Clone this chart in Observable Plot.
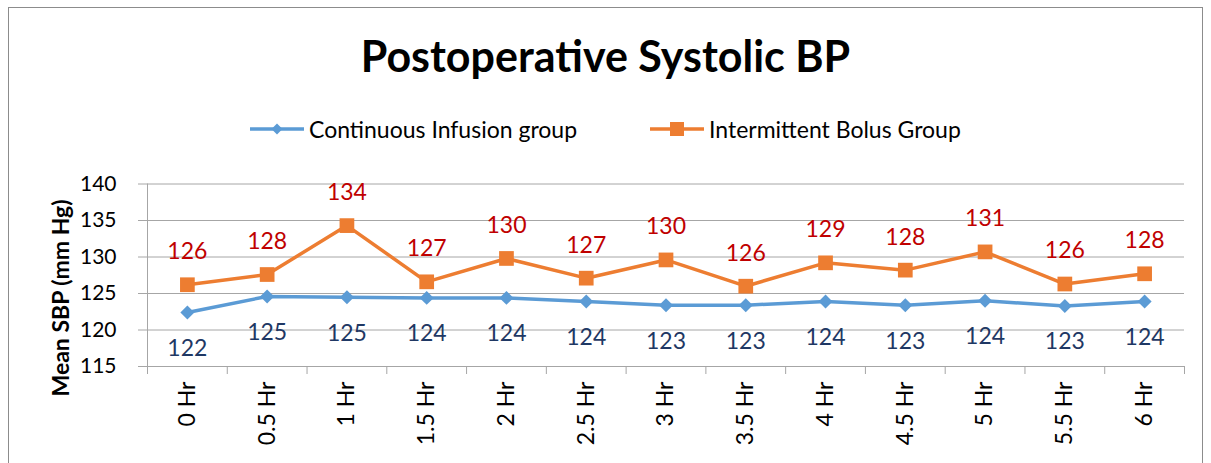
<!DOCTYPE html>
<html>
<head>
<meta charset="utf-8">
<script src="https://cdn.jsdelivr.net/npm/d3@7"></script>
<script src="https://cdn.jsdelivr.net/npm/@observablehq/plot@0.6"></script>
<style>
  html, body { margin: 0; padding: 0; background: #fff; }
  #wrap { position: relative; width: 1211px; height: 463px; overflow: hidden; font-family: Lato, "Open Sans", sans-serif; }
  #border { position: absolute; left: 8px; top: 7px; width: 1195px; height: 470px; border: 1px solid #8c8c8c; box-sizing: border-box; }
  #title { position: absolute; left: 0; width: 1211px; top: 34px; text-align: center; font-weight: bold; font-size: 43px; color: #000; line-height: 1; }
  #legend { position: absolute; top: 116px; left: 0; width: 1211px; height: 26px; font-size: 23px; color: #000; }
  .item { position: absolute; top: 0; display: flex; align-items: center; height: 26px; }
  .item svg { margin-right: 5px; }
  #ylabel { position: absolute; left: 60px; top: 298px; transform: translate(-50%, -50%) rotate(-90deg); white-space: nowrap; font-weight: bold; font-size: 23px; color: #000; }
  #chart { position: absolute; left: 0; top: 160px; }
</style>
</head>
<body>
<div id="wrap">
  <div id="border"></div>
  <div id="title">Postoperative Systolic BP</div>
  <div id="legend"></div>
  <div id="ylabel">Mean SBP (mm Hg)</div>
  <div id="chart"></div>
</div>
<script>
const categories = ["0 Hr", "0.5 Hr", "1 Hr", "1.5 Hr", "2 Hr", "2.5 Hr", "3 Hr", "3.5 Hr", "4 Hr", "4.5 Hr", "5 Hr", "5.5 Hr", "6 Hr"];
const continuousInfusion = [122.4, 124.6, 124.5, 124.4, 124.4, 123.9, 123.4, 123.4, 123.9, 123.4, 124.0, 123.3, 123.9];
const intermittentBolus = [126.2, 127.6, 134.3, 126.6, 129.8, 127.1, 129.6, 126.0, 129.2, 128.2, 130.7, 126.3, 127.7];
const yTicks = [115, 120, 125, 130, 135, 140];
const seriesNames = ["Continuous Infusion group", "Intermittent Bolus Group"];

const blue = "#5B9BD5", orange = "#ED7D31";
const blueLabel = "#1F3864", orangeLabel = "#C00000";
const gridColor = "#A6A6A6";

const contData = categories.map((c, i) => ({i, c, v: continuousInfusion[i]}));
const bolusData = categories.map((c, i) => ({i, c, v: intermittentBolus[i]}));
const idx = categories.map((c, i) => i);
const boundaries = d3.range(categories.length + 1).map(k => k - 0.5);

// legend
const legend = document.getElementById("legend");
const legendItems = [
  {name: seriesNames[0], color: blue, left: 250, marker: `<path d="M27,6.5 L32.5,12 L27,17.5 L21.5,12 Z" fill="${blue}"/>`},
  {name: seriesNames[1], color: orange, left: 650, marker: `<rect x="20" y="5" width="14" height="14" fill="${orange}"/>`}
];
for (const it of legendItems) {
  const d = document.createElement("div");
  d.className = "item";
  d.style.left = it.left + "px";
  d.innerHTML = `<svg width="54" height="24" viewBox="0 0 54 24"><line x1="0" y1="12" x2="54" y2="12" stroke="${it.color}" stroke-width="3.5"/>${it.marker}</svg><span>${it.name}</span>`;
  legend.appendChild(d);
}

const chart = Plot.plot({
  width: 1211,
  height: 303,
  marginTop: 23.5,
  marginBottom: 97,
  marginLeft: 147,
  marginRight: 27,
  style: {fontFamily: "Lato, 'Open Sans', sans-serif", background: "transparent", overflow: "visible"},
  x: {type: "linear", domain: [-0.5, categories.length - 0.5], axis: null},
  y: {domain: [115, 140], axis: null},
  marks: [
    Plot.gridY(yTicks, {stroke: gridColor, strokeOpacity: 1, strokeWidth: 1}),
    Plot.ruleX([-0.5], {stroke: gridColor, strokeWidth: 1}),
    Plot.axisY(yTicks, {anchor: "left", tickSize: 9, tickPadding: 22, stroke: gridColor, strokeOpacity: 1, fontSize: 21, fill: "#000", label: null}),
    Plot.axisX(boundaries, {anchor: "bottom", tickSize: 8, tickFormat: () => "", stroke: gridColor, strokeOpacity: 1, label: null}),
    Plot.axisX(idx, {anchor: "bottom", tickSize: 0, tickPadding: 15, tickRotate: -90, tickFormat: i => categories[i], fontSize: 23, fill: "#000", label: null}),
    Plot.line(contData, {x: "i", y: "v", stroke: blue, strokeWidth: 3.5}),
    Plot.line(bolusData, {x: "i", y: "v", stroke: orange, strokeWidth: 3.5}),
    Plot.dot(contData, {x: "i", y: "v", symbol: "diamond2", r: 6.3, fill: blue, stroke: "none"}),
    Plot.dot(bolusData, {x: "i", y: "v", symbol: "square", r: 8.3, fill: orange, stroke: "none"}),
    Plot.text(bolusData, {x: "i", y: "v", text: d => String(Math.round(d.v)), dy: -33, fill: orangeLabel, fontSize: 23}),
    Plot.text(contData, {x: "i", y: "v", text: d => String(Math.round(d.v)), dy: 36, fill: blueLabel, fontSize: 23})
  ]
});
document.getElementById("chart").appendChild(chart);
</script>
</body>
</html>
